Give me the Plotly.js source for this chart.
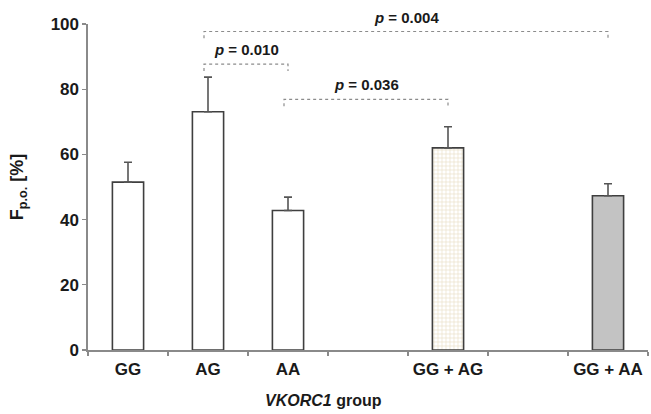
<!DOCTYPE html>
<html>
<head>
<meta charset="utf-8">
<script src="https://cdn.plot.ly/plotly-3.0.1.min.js"></script>
<style>html,body{margin:0;padding:0;background:#fff}#chart{width:651px;height:414px}</style>
</head>
<body>
<div id="chart"></div>
<script>
// Data
const categories = ["GG", "AG", "AA", " ", "GG + AG", "  ", "GG + AA"];
const values     = [51.5, 73.1, 42.8, null, 62.0, null, 47.3];
const errorsUp   = [6.1, 10.6, 4.1, null, 6.5, null, 3.7];
const fillColors = ["#ffffff", "#ffffff", "#ffffff", "#ffffff", "#e9dec6", "#ffffff", "#c3c3c3"];
const patternShapes = ["", "", "", "", "+", "", ""];

// significance brackets
const bracketFrom   = ["AG", "AA", "AG"];
const bracketTo     = ["AA", "GG + AG", "GG + AA"];
const bracketLevel  = [87.7, 76.9, 97.7];
const bracketPvalue = ["0.010", "0.036", "0.004"];

const idx = c => categories.indexOf(c);
const font = "Liberation Sans, Arial, sans-serif";
const axisColor = "#8a8a8a";

const bars = {
  type: "bar",
  x: categories,
  y: values,
  width: 0.39,
  marker: {
    color: fillColors,
    line: {color: "#3f3f3f", width: 1.6},
    pattern: {shape: patternShapes, fgcolor: "#bba984", bgcolor: "#e9dec6", size: 4, solidity: 0.3}
  },
  error_y: {type: "data", symmetric: false, array: errorsUp, arrayminus: errorsUp.map(v => v === null ? null : 0),
            color: "#555555", thickness: 1.6, width: 4},
  hoverinfo: "skip",
  showlegend: false
};

const shapes = [];
const annotations = [];
const drop = 2.1;
for (let i = 0; i < bracketFrom.length; i++) {
  const x0 = idx(bracketFrom[i]) - 0.05, x1 = idx(bracketTo[i]);
  const y = bracketLevel[i];
  shapes.push({type: "path", xref: "x", yref: "y",
    path: `M ${x0},${y - drop} L ${x0},${y} L ${x1},${y} L ${x1},${y - drop}`,
    line: {color: "#8c8c8c", width: 1.2, dash: "dot"}});
  annotations.push({xref: "x", yref: "y", x: (x0 + x1) / 2, y: y + 1.2, yanchor: "bottom",
    text: `<b><i>p</i> = ${bracketPvalue[i]}</b>`, showarrow: false,
    font: {family: font, size: 15, color: "#1a1a1a"}});
}
annotations.push({xref: "paper", yref: "paper", x: 0.42, y: -0.155, yanchor: "middle", xanchor: "center",
  text: "<b><i>VKORC1</i> group</b>", showarrow: false, font: {family: font, size: 16, color: "#1a1a1a"}});

const layout = {
  width: 651, height: 414,
  margin: {l: 88, r: 3, t: 24, b: 64},
  paper_bgcolor: "#ffffff", plot_bgcolor: "#ffffff",
  font: {family: font, color: "#1a1a1a"},
  bargap: 0,
  xaxis: {
    type: "category", categoryorder: "array", categoryarray: categories,
    range: [-0.5, 6.5], tickson: "boundaries", tickangle: 0,
    showline: true, linecolor: axisColor, linewidth: 1.6,
    ticks: "outside", ticklen: 4, tickcolor: axisColor, tickwidth: 1.4,
    showgrid: false, zeroline: false,
    tickfont: {family: font, size: 17, color: "#1a1a1a", weight: "bold"},
    ticklabelstandoff: 3
  },
  yaxis: {
    range: [0, 100], tickvals: [0, 20, 40, 60, 80, 100],
    showline: true, linecolor: axisColor, linewidth: 1.6,
    ticks: "outside", ticklen: 4, tickcolor: axisColor, tickwidth: 1.4,
    showgrid: false, zeroline: false,
    tickfont: {family: font, size: 17, color: "#1a1a1a", weight: "bold"},
    title: {text: "<b>F<sub>p.o.</sub> [%]</b>", font: {family: font, size: 18, color: "#1a1a1a"}, standoff: 22}
  },
  shapes: shapes,
  annotations: annotations
};

Plotly.newPlot("chart", [bars], layout, {displayModeBar: false, staticPlot: true});
</script>
</body>
</html>
